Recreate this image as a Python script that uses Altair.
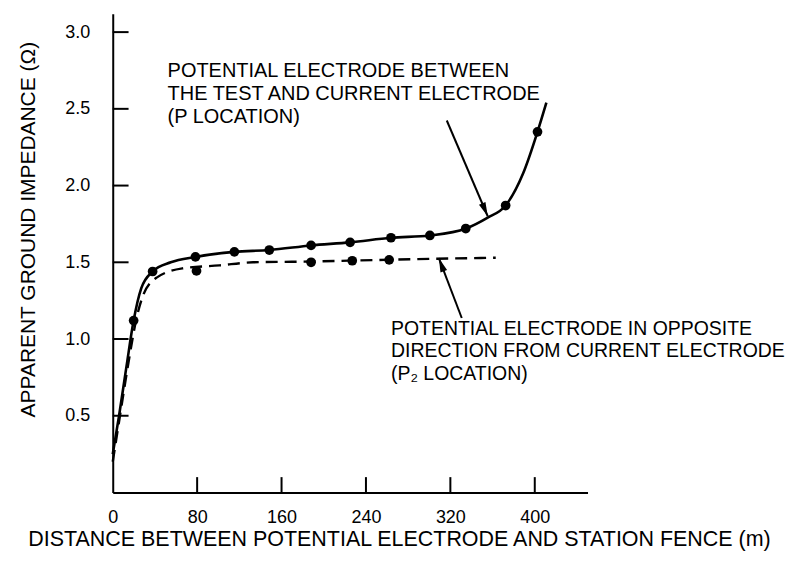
import altair as alt
import pandas as pd

FONT = "Liberation Sans"

# ---- data ----
x_ticks = [0, 80, 160, 240, 320, 400]
y_ticks = [0.5, 1.0, 1.5, 2.0, 2.5, 3.0]

# P location (solid curve) – traced curve and measured points
p_curve_x = [0, 6, 13, 19.8, 27, 37.8, 55, 78.4, 115.3, 148.4, 188, 225, 263.7, 300.6, 334.6, 355, 372.4, 389, 402.6, 411]
p_curve_y = [0.25, 0.5, 0.82, 1.12, 1.33, 1.44, 1.50, 1.535, 1.568, 1.58, 1.61, 1.63, 1.66, 1.675, 1.72, 1.79, 1.87, 2.08, 2.35, 2.54]
p_pts_x = [19.8, 37.8, 78.4, 115.3, 148.4, 188, 225, 263.7, 300.6, 334.6, 372.4, 402.6]
p_pts_y = [1.12, 1.44, 1.535, 1.568, 1.58, 1.61, 1.63, 1.66, 1.675, 1.72, 1.87, 2.35]

# P2 location (dashed curve) – traced curve and measured points
p2_curve_x = [0, 8, 15, 22.7, 28, 41.6, 66, 101, 133, 188, 250, 363]
p2_curve_y = [0.2, 0.55, 0.85, 1.14, 1.27, 1.40, 1.46, 1.48, 1.50, 1.505, 1.515, 1.53]
p2_pts_x = [79.4, 188, 227, 262]
p2_pts_y = [1.444, 1.50, 1.51, 1.516]

label_p = ["POTENTIAL ELECTRODE BETWEEN", "THE TEST AND CURRENT ELECTRODE", "(P LOCATION)"]
label_p2 = ["POTENTIAL ELECTRODE IN OPPOSITE", "DIRECTION FROM CURRENT ELECTRODE", "(P\u2082 LOCATION)"]

x_title = "DISTANCE BETWEEN POTENTIAL ELECTRODE AND STATION FENCE (m)"
y_title = "APPARENT GROUND IMPEDANCE (\u03a9)"

# ---- tables ----
p_curve = pd.DataFrame({"x": p_curve_x, "y": p_curve_y})
p_pts = pd.DataFrame({"x": p_pts_x, "y": p_pts_y})
p2_curve = pd.DataFrame({"x": p2_curve_x, "y": p2_curve_y})
p2_pts = pd.DataFrame({"x": p2_pts_x, "y": p2_pts_y})
xt = pd.DataFrame({"x": x_ticks[1:]})
yt = pd.DataFrame({"y": y_ticks})
one = pd.DataFrame({"a": [0]})

xscale = alt.Scale(domain=[0, 450], nice=False, zero=False)
yscale = alt.Scale(domain=[0, 3.12], nice=False, zero=False)

xaxis = alt.Axis(
    values=x_ticks, format="d", grid=False, ticks=False, labelFlush=False,
    domainColor="black", domainWidth=2,
    labelFont=FONT, labelFontSize=18, labelColor="black", labelPadding=16,
    title=x_title, titleFont=FONT, titleFontSize=21.5, titleFontWeight="normal",
    titleColor="black", titleX=287, titleY=47, titleBaseline="middle", titleAlign="center",
)
yaxis = alt.Axis(
    values=y_ticks, format=".1f", grid=False, ticks=False,
    domainColor="black", domainWidth=2,
    labelFont=FONT, labelFontSize=18, labelColor="black", labelPadding=23,
    title=y_title, titleFont=FONT, titleFontSize=21, titleFontWeight="normal",
    titleColor="black", titleX=-84, titleY=216, titleAngle=270, titleBaseline="middle",
    titleAlign="center",
)

X = lambda f: alt.X(f, scale=xscale, axis=xaxis)
Y = lambda f: alt.Y(f, scale=yscale, axis=yaxis)
XD = lambda v: alt.XDatum(v, scale=xscale, axis=xaxis)
YD = lambda v: alt.YDatum(v, scale=yscale, axis=yaxis)

solid = alt.Chart(p_curve).mark_line(color="black", strokeWidth=2.6, interpolate="monotone").encode(
    x=X("x:Q"), y=Y("y:Q"),
)
dashed = alt.Chart(p2_curve).mark_line(color="black", strokeWidth=2.4, strokeDash=[12, 7],
                                       interpolate="monotone").encode(
    x=X("x:Q"), y=Y("y:Q"),
)
dots1 = alt.Chart(p_pts).mark_point(filled=True, color="black", size=95, opacity=1).encode(
    x=X("x:Q"), y=Y("y:Q"),
)
dots2 = alt.Chart(p2_pts).mark_point(filled=True, color="black", size=95, opacity=1).encode(
    x=X("x:Q"), y=Y("y:Q"),
)

# inward-pointing tick marks, as in the original
xticks_marks = alt.Chart(xt).mark_rule(color="black", strokeWidth=2).encode(
    x=X("x:Q"), y=YD(0), y2=alt.Y2Datum(0.1),
)
yticks_marks = alt.Chart(yt).mark_rule(color="black", strokeWidth=2).encode(
    y=Y("y:Q"), x=XD(0), x2=alt.X2Datum(15),
)

def arrow(x0, y0, x1, y1, cx, cy, ang):
    line = alt.Chart(one).mark_rule(color="black", strokeWidth=2).encode(
        x=XD(x0), y=YD(y0), x2=alt.X2Datum(x1), y2=alt.Y2Datum(y1),
    )
    head = alt.Chart(one).mark_point(shape="M0,-1L0.5,1L-0.5,1Z", filled=True, color="black",
                                     size=200, angle=ang, opacity=1).encode(
        x=XD(cx), y=YD(cy),
    )
    return [line, head]

arrow1 = arrow(316.6, 2.424, 355.4, 1.80, 352.8, 1.842, 157)
arrow2 = arrow(330.8, 1.137, 309.1, 1.527, 311.4, 1.485, 339)

text1 = alt.Chart(one).mark_text(align="left", baseline="alphabetic", font=FONT, fontSize=20,
                                 lineHeight=23.5, color="black").encode(
    x=XD(52), y=YD(2.71), text=alt.value(label_p),
)
text2 = alt.Chart(one).mark_text(align="left", baseline="alphabetic", font=FONT, fontSize=19.5,
                                 lineHeight=22.5, color="black").encode(
    x=XD(263.7), y=YD(1.027), text=alt.value(label_p2),
)

chart = alt.layer(
    solid, dashed, dots1, dots2, xticks_marks, yticks_marks, *arrow1, *arrow2, text1, text2
).properties(
    width=476, height=480,
    background="white",
    autosize=alt.AutoSizeParams(type="none"),
    padding={"left": 105, "top": 5, "right": 205, "bottom": 75},
).configure_view(stroke=None).configure_axis(
    labelFont=FONT, labelFontSize=18, labelColor="black",
)

chart.save("out.html", embed_options={"renderer": "svg", "actions": False})
